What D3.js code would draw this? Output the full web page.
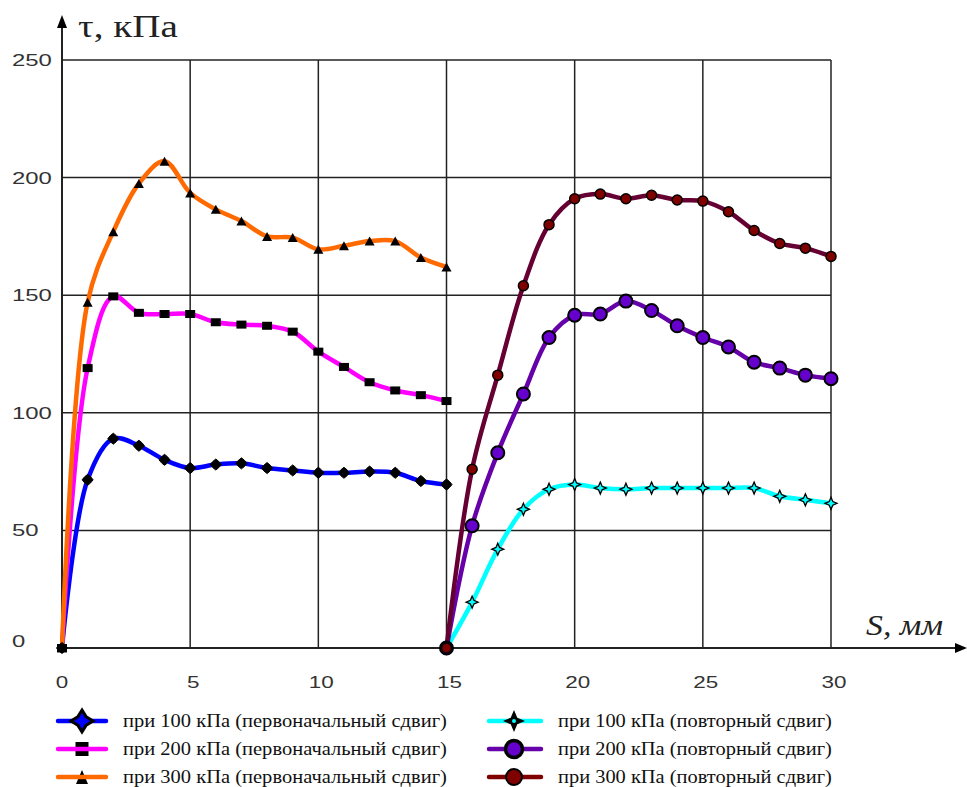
<!DOCTYPE html>
<html><head><meta charset="utf-8">
<script src="https://cdn.jsdelivr.net/npm/d3@7/dist/d3.min.js"></script>
<style>body{margin:0;background:#fff}svg{display:block}</style>
</head><body>
<svg id="c" width="967" height="787"></svg>
<script>
// ---- data ----
const sFirst  = [0,1,2,3,4,5,6,7,8,9,10,11,12,13,14,15];
const sRepeat = [15,16,17,18,19,20,21,22,23,24,25,26,27,28,29,30];
const tau100First = [0,71.5,89,86,80,76.5,78,78.5,76.5,75.5,74.5,74.5,75,74.5,71,69.5];
const tau200First = [0,119,149.5,142.5,142,142,138.5,137.5,137,134.5,126,119.5,113,109.5,107.5,105];
const tau300First = [0,147,177,197.5,207,193.5,186.5,181.5,175,174.5,169.5,171,173,173,166,162];
const tau100Repeat = [0,19.5,42,59,67.5,69.5,68,67.5,68,68,68,68,68,64.5,63,61.5];
const tau200Repeat = [0,52,83,108,132,141.5,142,147.5,143.5,137,132,128,121.5,119,116,114.5];
const tau300Repeat = [0,76,116,154,180,191,193,191,192.5,190.5,190,185.5,177.5,172,170,166.5];
const xTicks = [0,5,10,15,20,25,30];
const yTicks = [0,50,100,150,200,250];
const seriesNames = [
  "при 100 кПа (первоначальный сдвиг)",
  "при 200 кПа (первоначальный сдвиг)",
  "при 300 кПа (первоначальный сдвиг)",
  "при 100 кПа (повторный сдвиг)",
  "при 200 кПа (повторный сдвиг)",
  "при 300 кПа (повторный сдвиг)"
];
const yTitle = "τ, кПа";
const xTitle = "S, мм";

// ---- styles ----
const SERIF = "'Liberation Serif'";
const SANS = "'Liberation Sans'";
const styles = [
  {line:"#0000FF", legendLine:"#0000FF", marker:"diamond"},
  {line:"#FF00FF", legendLine:"#FF00FF", marker:"square"},
  {line:"#FF6A00", legendLine:"#FF6A00", marker:"triangle"},
  {line:"#00FFFF", legendLine:"#00FFFF", marker:"star"},
  {line:"#6600A8", legendLine:"#6600A8", marker:"bigcircle"},
  {line:"#660033", legendLine:"#800000", marker:"circle"}
];
const series = [
  {s:sFirst, v:tau100First},{s:sFirst, v:tau200First},{s:sFirst, v:tau300First},
  {s:sRepeat, v:tau100Repeat},{s:sRepeat, v:tau200Repeat},{s:sRepeat, v:tau300Repeat}
].map((d,i)=>({...d, name:seriesNames[i], ...styles[i]}));

const svg = d3.select("#c");
const x = d3.scaleLinear().domain([0,30]).range([62,831]);
const y = d3.scaleLinear().domain([0,250]).range([648,60]);

// text helper: place text and stretch horizontally to a target width
function fitText(parent, str, px, py, size, family, width, anchor, italic){
  const t = parent.append("text").attr("x",0).attr("y",0)
    .style("font-family",family).style("font-size",size+"px").attr("fill","#222").text(str);
  if(italic) t.style("font-style","italic");
  const w = t.node().getComputedTextLength();
  const k = width / w;
  const dx = anchor==="middle" ? -width/2 : 0;
  t.attr("transform",`translate(${px+dx},${py}) scale(${k},1)`);
  return t;
}

// grid
const g = svg.append("g");
g.selectAll(".hg").data(yTicks.filter(t=>t>0)).join("line")
  .attr("x1",x(0)).attr("x2",x(30)).attr("y1",d=>y(d)).attr("y2",d=>y(d))
  .attr("stroke","#222").attr("stroke-width",1.5);
g.selectAll(".vg").data(xTicks.filter(t=>t>0)).join("line")
  .attr("y1",y(0)).attr("y2",y(250)).attr("x1",d=>x(d)).attr("x2",d=>x(d))
  .attr("stroke","#222").attr("stroke-width",1.5);

// axes
svg.append("line").attr("x1",x(0)).attr("x2",960).attr("y1",y(0)).attr("y2",y(0))
  .attr("stroke","#222").attr("stroke-width",2);
svg.append("line").attr("x1",x(0)).attr("x2",x(0)).attr("y1",y(0)).attr("y2",22)
  .attr("stroke","#222").attr("stroke-width",2);
svg.append("path").attr("d",`M967,${y(0)} L955,${y(0)-5} L955,${y(0)+5} Z`).attr("fill","#000");
svg.append("path").attr("d",`M${x(0)},15 L${x(0)-5},28 L${x(0)+5},28 Z`).attr("fill","#000");

// tick labels
const tl = svg.append("g");
yTicks.forEach(d=>{
  fitText(tl, String(d), 12, y(d)+(d===0?-1:6), 17, SANS, String(d).length*13.3, "start").attr("fill","#333");
});
xTicks.forEach(d=>{
  fitText(tl, String(d), x(d)+(d===0?0:3), 688, 17, SANS, String(d).length*12.5, "middle").attr("fill","#333");
});

// titles
fitText(svg, yTitle, 78, 37, 31, SERIF, 100, "start");
fitText(svg, xTitle, 866, 635, 29, SERIF, 77, "start", true);

// marker drawing
function star4(r, inner){
  const p = d3.path(), i = r*inner;
  p.moveTo(0,-r); p.lineTo(i,-i); p.lineTo(r,0); p.lineTo(i,i);
  p.lineTo(0,r); p.lineTo(-i,i); p.lineTo(-r,0); p.lineTo(-i,-i); p.closePath();
  return p.toString();
}
function tri(w,h){ return `M0,${-h/2} L${w/2},${h/2} L${-w/2},${h/2} Z`; }
function drawMarker(sel, type, big){
  if(type==="diamond"){
    sel.append("path").attr("d",big?star4(11,0.38):star4(5.5,0.55))
      .attr("fill",big?"#0000FF":"#000").attr("stroke","#000").attr("stroke-width",big?3:1);
  } else if(type==="square"){
    const w = big?13:10, h = big?14:8;
    sel.append("rect").attr("x",-w/2).attr("y",-h/2).attr("width",w).attr("height",h).attr("fill","#000");
  } else if(type==="triangle"){
    sel.append("path").attr("d",big?tri(12,14):tri(10,9)).attr("fill","#000");
  } else if(type==="star"){
    if(big){
      sel.append("path").attr("d",star4(11,0.3)).attr("fill","#000");
      sel.append("circle").attr("r",2).attr("fill","#00FFFF");
    } else {
      sel.append("path").attr("d",star4(6,0.3)).attr("fill","#00FFFF").attr("stroke","#000").attr("stroke-width",1.3);
    }
  } else if(type==="bigcircle"){
    sel.append("circle").attr("r",big?8.5:6.5).attr("fill","#6600CC").attr("stroke","#000").attr("stroke-width",big?3.5:2);
  } else if(type==="circle"){
    sel.append("circle").attr("r",big?8:5).attr("fill","#800000").attr("stroke","#000").attr("stroke-width",big?2:1.5);
  }
}

// lines
const line = d3.line().x(d=>x(d[0])).y(d=>y(d[1])).curve(d3.curveCatmullRom.alpha(0.5));
series.forEach(sr=>{
  const pts = sr.s.map((s,i)=>[s,sr.v[i]]);
  svg.append("path").attr("d",line(pts)).attr("fill","none")
    .attr("stroke",sr.line).attr("stroke-width",4.5).attr("stroke-linejoin","round");
});
// markers
series.forEach(sr=>{
  sr.s.forEach((s,i)=>{
    const m = svg.append("g").attr("transform",`translate(${x(s)},${y(sr.v[i])})`);
    drawMarker(m, sr.marker, false);
  });
});

// legend
series.forEach((sr,i)=>{
  const col = i<3?0:1, row = i%3;
  const lx0 = col===0?58:489, lx1 = col===0?106:541, mx = col===0?82:514;
  const ty = 721 + row*28;
  const lg = svg.append("g");
  const drawLine = ()=>lg.append("line").attr("x1",lx0).attr("x2",lx1).attr("y1",ty).attr("y2",ty)
      .attr("stroke",sr.legendLine).attr("stroke-width",4.5).attr("stroke-linecap","round");
  const overMarker = sr.marker==="square"||sr.marker==="triangle";
  if(!overMarker) drawLine();
  drawMarker(lg.append("g").attr("transform",`translate(${mx},${ty})`), sr.marker, true);
  if(overMarker) drawLine();
  fitText(lg, sr.name, col===0?123:558, ty+6, 19, SERIF, col===0?324:274, "start").attr("fill","#111");
});
</script>
</body></html>
